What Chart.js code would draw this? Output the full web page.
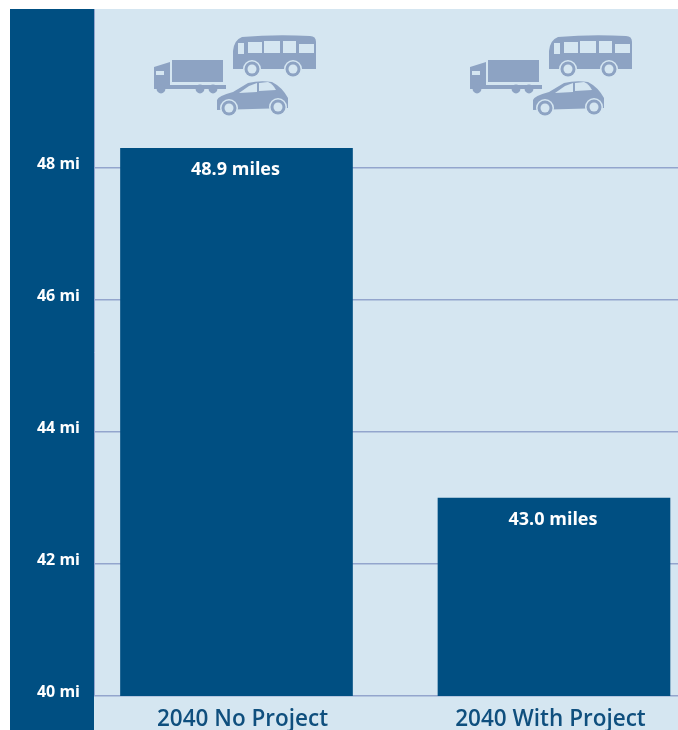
<!DOCTYPE html>
<html>
<head>
<meta charset="utf-8">
<title>2040 miles chart</title>
<script src="https://cdn.jsdelivr.net/npm/chart.js@4"></script>
<style>
    body { margin: 0; background: #fff; }
    #panel {
        position: absolute; left: 10px; top: 9px; width: 668px; height: 721px;
        background: linear-gradient(to right, #004f82 84px, #d5e6f1 84px);
    }
    #chart { position: absolute; left: 0; top: 0; }
    .icons { position: absolute; top: 0; width: 180px; height: 125px; }
</style>
</head>
<body>
<div id="panel"><canvas id="chart" width="668" height="721"></canvas></div>

<svg width="0" height="0" style="position:absolute">
    <symbol id="vehicles" viewBox="0 0 180 125">
        <!-- truck -->
        <g fill="#8da3c3">
            <rect x="22" y="51" width="51" height="22"/>
            <path d="M4 58 L20 53 L20 76 L76 76 L76 80 L4 80 Z"/>
            <circle cx="11" cy="80" r="4.4"/><circle cx="50" cy="80" r="4.4"/><circle cx="63" cy="80" r="4.4"/>
        </g>
        <rect x="6" y="62" width="8" height="4" fill="#d5e6f1"/>
        <!-- bus -->
        <path fill="#8da3c3" d="M83 60 L83 42 Q84 31 92 28 Q125 25 160 27 Q166 27 166 33 L166 60 Z"/>
        <g fill="#d5e6f1">
            <rect x="88" y="34" width="6" height="11"/>
            <rect x="98" y="33" width="14" height="11"/>
            <rect x="114" y="32" width="16" height="12"/>
            <rect x="133" y="32" width="13" height="12"/>
            <rect x="149" y="35" width="15" height="9"/>
        </g>
        <g fill="#d5e6f1"><circle cx="102" cy="60" r="9"/><circle cx="143" cy="60" r="9"/></g>
        <g fill="#8da3c3"><circle cx="102" cy="60" r="7.5"/><circle cx="143" cy="60" r="7.5"/></g>
        <g fill="#d5e6f1"><circle cx="102" cy="60" r="4.5"/><circle cx="143" cy="60" r="4.5"/></g>
        <!-- car -->
        <path fill="#8da3c3" d="M67 91 Q68 87 83 83 L98 74 Q110 71 122 73 Q132 78 138 89 L138 99 L67 101 Z"/>
        <g fill="#d5e6f1">
            <path d="M89 84 L99 77 L107 74 L107 83 Z"/>
            <path d="M109 74 L118 73 Q123 75 126 81 L109 82 Z"/>
            <circle cx="79" cy="99" r="9"/><circle cx="128" cy="98" r="9"/>
        </g>
        <g fill="#8da3c3"><circle cx="79" cy="99" r="7.5"/><circle cx="128" cy="98" r="7.5"/></g>
        <g fill="#d5e6f1"><circle cx="79" cy="99" r="4.5"/><circle cx="128" cy="98" r="4.5"/></g>
    </symbol>
</svg>
<svg class="icons" style="left:150px;top:9px"><use href="#vehicles"/></svg>
<svg class="icons" style="left:466px;top:9px"><use href="#vehicles"/></svg>

<script>
const categories = ['2040 No Project', '2040 With Project'];
const barHeights = [48.3, 43.0];
const barLabels = ['48.9 miles', '43.0 miles'];
const yTicks = [40, 42, 44, 46, 48];

const dark = '#004f82';
const gridColor = '#93a5cd';

// writes the "xx miles" text inside the top of each bar
const barLabelPlugin = {
    id: 'barLabels',
    afterDatasetsDraw(chart) {
        const ctx = chart.ctx;
        const bars = chart.getDatasetMeta(0).data;
        ctx.save();
        ctx.fillStyle = '#fff';
        ctx.font = '700 18px "Open Sans"';
        ctx.textAlign = 'center';
        ctx.textBaseline = 'middle';
        bars.forEach((bar, i) => {
            ctx.fillText(barLabels[i], bar.x - 1, bar.y + 22);
        });
        ctx.restore();
    }
};

new Chart(document.getElementById('chart'), {
    type: 'bar',
    data: {
        datasets: [{
            data: barHeights.map((v, i) => ({ x: i, y: v })),
            backgroundColor: dark,
            barThickness: 232
        }]
    },
    options: {
        responsive: false,
        animation: false,
        layout: { padding: 0 },
        plugins: { legend: { display: false }, tooltip: { enabled: false } },
        scales: {
            x: {
                type: 'linear',
                offset: false,
                min: -0.4488,
                max: 1.3906,
                grid: { display: false },
                border: { display: false },
                afterBuildTicks: axis => { axis.ticks = [{ value: 0.019 }, { value: 0.989 }]; },
                afterFit: axis => {
                    axis.height = 34;
                    axis.paddingLeft = 0;
                    axis.paddingRight = 0;
                },
                ticks: {
                    autoSkip: false,
                    maxRotation: 0,
                    padding: 2,
                    color: '#0f4f7e',
                    font: { family: 'Open Sans', size: 22.5, weight: 600 },
                    callback: (value, index) => categories[index]
                }
            },
            y: {
                min: 40,
                max: 50.41,
                grid: { color: gridColor, lineWidth: 1.5, drawTicks: false },
                border: { color: gridColor, width: 1 },
                afterBuildTicks: axis => { axis.ticks = yTicks.map(v => ({ value: v })); },
                afterFit: axis => {
                    axis.width = 84;
                    axis.paddingTop = 0;
                    axis.paddingBottom = 0;
                },
                ticks: {
                    padding: 14,
                    labelOffset: -4,
                    color: '#fff',
                    font: { family: 'Open Sans', size: 16, weight: 700 },
                    callback: value => value + ' mi'
                }
            }
        }
    },
    plugins: [barLabelPlugin]
});
</script>
</body>
</html>
